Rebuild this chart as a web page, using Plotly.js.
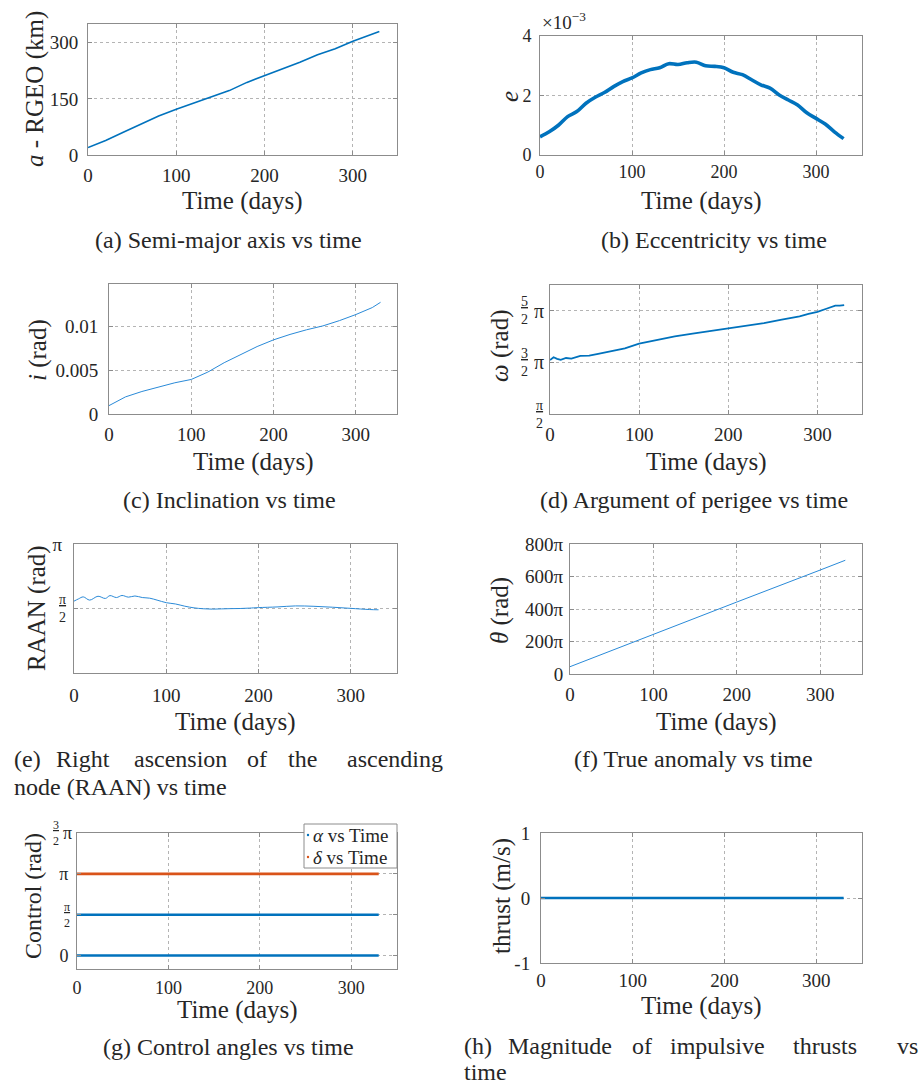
<!DOCTYPE html>
<html><head><meta charset="utf-8">
<script src="https://cdn.plot.ly/plotly-3.0.1.min.js"></script>
<style>html,body{margin:0;padding:0;background:#fff}#chart{width:923px;height:1086px}</style>
</head><body><div id="chart"></div>
<script>
// ---------- data ----------
const tA = [0,20,40,60,80,100,120,140,160,180,200,220,240,260,280,300,320,330];
const semiMajorKm = [20,39,61,83,104,122,138,154,172,194,212,228,248,268,284,304,322,330];

const tB = [0,10,20,30,40,50,60,70,80,90,100,110,120,130,140,150,160,170,180,190,200,210,220,230,240,250,260,270,280,290,300,310,320,330];
const eccentricity = [0.00061,0.00078,0.00100,0.00129,0.00146,0.00174,0.00194,0.00210,0.00230,0.00247,0.00259,0.00276,0.00287,0.00293,0.00307,0.00304,0.00310,0.00312,0.00300,0.00298,0.00293,0.00278,0.00270,0.00253,0.00236,0.00225,0.00202,0.00185,0.00168,0.00142,0.00123,0.00104,0.00078,0.00055];

const tC = [0,20,40,60,80,100,120,140,160,180,200,220,240,260,280,300,320,330];
const inclinationRad = [0.00096,0.00196,0.00258,0.0031,0.00358,0.00396,0.0048,0.00588,0.00685,0.00773,0.0085,0.00912,0.00965,0.0101,0.0107,0.0114,0.0122,0.0128];

const tD = [0,4,8,12,18,24,34,44,54,64,74,84,100,120,140,160,180,200,220,240,260,280,290,300,310,320,325,330];
const omegaPi = [1.545,1.60,1.57,1.55,1.585,1.575,1.625,1.63,1.665,1.70,1.73,1.77,1.865,1.94,2.006,2.058,2.109,2.154,2.20,2.263,2.327,2.39,2.44,2.48,2.54,2.60,2.60,2.61];

const tE = [0,5,10,17,26,34,39,46,52,59,66,74,82,90,100,110,120,130,140,150,160,170,180,190,200,220,240,260,280,300,320,330];
const raanPi = [0.557,0.575,0.590,0.565,0.595,0.578,0.600,0.585,0.601,0.588,0.597,0.585,0.580,0.565,0.545,0.535,0.518,0.505,0.498,0.495,0.497,0.499,0.500,0.503,0.507,0.512,0.520,0.517,0.510,0.501,0.492,0.490];

const tF = [0,100,200,300,330];
const thetaPi = [45,245,443,640,700];

const tG = [0,330];
const alphaLowPi = [0,0];
const alphaHighPi = [0.5,0.5];
const deltaPi = [1,1];
const legendNames = ['<i>α</i> vs Time','<i>δ</i> vs Time'];

const tH = [0,330];
const thrustMs = [0,0];

const timeTicks = [0,100,200,300];

// ---------- layout helpers ----------
const W = 923, H = 1086;
const FONT = 'Liberation Serif, Times New Roman, serif';
const TXT = '#262626';
const BLUE = '#0072BD', ORANGE = '#D95319';
const px = x => x / W;
const py = y => 1 - y / H;
// plot boxes [left, right, top, bottom] in pixels
const boxes = [
  [88,397,24,155],[540,862,36,155],
  [109,397,284,414],[550,862,285,414],
  [74,397,544,673],[570,862,544,674],
  [77,397,833,969],[541,862,833,963]
];
const tickSizes = [19,18,19,19,19,19,18,19];

function axisBase(size){
  return {
    showline:true, linecolor:'#8c8c8c', linewidth:1, mirror:'ticks',
    ticks:'inside', ticklen:4, tickcolor:'#8c8c8c', tickwidth:1,
    showgrid:true, gridcolor:'#b4b4b4', griddash:'dot', gridwidth:1,
    zeroline:false, fixedrange:true,
    tickfont:{family:FONT, size:size, color:TXT}
  };
}

const layout = {
  width:W, height:H, margin:{l:0,r:0,t:0,b:0},
  paper_bgcolor:'#fff', plot_bgcolor:'#fff',
  showlegend:false,
  annotations:[], shapes:[]
};

const ySpecs = [
  {range:[0,350], tickvals:[0,150,300], ticktext:['0','150','300']},
  {range:[0,0.004], tickvals:[0,0.002,0.004], ticktext:['0','2','4']},
  {range:[0,0.0149], tickvals:[0,0.005,0.01], ticktext:['0','0.005','0.01']},
  {range:[0.5,3], tickvals:[0.5,1.5,2.5], ticktext:[' ',' ',' ']},
  {range:[0,1], tickvals:[0.5,1], ticktext:[' ','π']},
  {range:[0,800], tickvals:[0,200,400,600,800], ticktext:['0','200π','400π','600π','800π']},
  {range:[-0.165,1.5], tickvals:[0,0.5,1,1.5], ticktext:['0',' ','π',' ']},
  {range:[-1,1], tickvals:[-1,0,1], ticktext:['-1','0','1']}
];
const xStand = [3,0,3,3,5,3,2,0];
const yStand = [5,4,6,4,7,2,4,6];

boxes.forEach((b,i)=>{
  const n = i===0 ? '' : String(i+1);
  const xa = axisBase(tickSizes[i]);
  Object.assign(xa, {domain:[px(b[0]),px(b[1])], range:[0,350], tickvals:timeTicks,
    ticktext:timeTicks.map(String), anchor:'y'+n, ticklabelstandoff:xStand[i]});
  const ya = axisBase(tickSizes[i]);
  Object.assign(ya, {domain:[py(b[3]),py(b[2])], anchor:'x'+n, ticklabelstandoff:yStand[i]}, ySpecs[i]);
  layout['xaxis'+n] = xa;
  layout['yaxis'+n] = ya;
});

// ---------- traces ----------
const data = [
  {x:tA, y:semiMajorKm, xaxis:'x', yaxis:'y', mode:'lines', line:{color:BLUE,width:1.6}},
  {x:tB, y:eccentricity, xaxis:'x2', yaxis:'y2', mode:'lines', line:{color:BLUE,width:3.6,shape:'spline'}},
  {x:tC, y:inclinationRad, xaxis:'x3', yaxis:'y3', mode:'lines', line:{color:'#2a8ad8',width:1}},
  {x:tD, y:omegaPi, xaxis:'x4', yaxis:'y4', mode:'lines', line:{color:BLUE,width:1.8}},
  {x:tE, y:raanPi, xaxis:'x5', yaxis:'y5', mode:'lines', line:{color:'#2a8ad8',width:1,shape:'spline'}},
  {x:tF, y:thetaPi, xaxis:'x6', yaxis:'y6', mode:'lines', line:{color:'#2a8ad8',width:1}},
  {x:tG, y:alphaLowPi, xaxis:'x7', yaxis:'y7', mode:'lines', line:{color:BLUE,width:2.6}, name:legendNames[0]},
  {x:tG, y:alphaHighPi, xaxis:'x7', yaxis:'y7', mode:'lines', line:{color:BLUE,width:2.6}, name:legendNames[0]},
  {x:tG, y:deltaPi, xaxis:'x7', yaxis:'y7', mode:'lines', line:{color:ORANGE,width:2.6}, name:legendNames[1]},
  {x:tH, y:thrustMs, xaxis:'x8', yaxis:'y8', mode:'lines', line:{color:BLUE,width:2.6}}
];

// ---------- text ----------
const A = layout.annotations;
function txt(text, x, y, size, opts){
  A.push(Object.assign({text:text, xref:'paper', yref:'paper', x:px(x), y:py(y),
    xanchor:'center', yanchor:'middle', showarrow:false, borderpad:0,
    font:{family:FONT, size:size, color:TXT}}, opts||{}));
}
const TT = 25, CAP = 24;
// x titles
[[242,201],[701,201],[253,462],[706,462],[235,722],[716,722],[237,1010],[701,1006]]
  .forEach(p=>txt('Time (days)', p[0], p[1], TT));
// y titles
txt('<i>a</i> - RGEO (km)', 35, 89, TT, {textangle:-90});
txt('<i>e</i>', 509, 96, TT, {textangle:-90});
txt('<i>i</i> (rad)', 38, 350, TT, {textangle:-90});
txt('<i>ω</i> (rad)', 500, 346, TT, {textangle:-90});
txt('RAAN (rad)', 37, 608, TT, {textangle:-90});
txt('<i>θ</i> (rad)', 500, 611, TT, {textangle:-90});
txt('Control (rad)', 33, 896, 24, {textangle:-90});
txt('thrust (m/s)', 502, 896, TT, {textangle:-90});
// exponent
txt('×10<sup>−3</sup>', 541, 21, 19, {xanchor:'left'});
// captions
txt('(a) Semi-major axis vs time', 228, 240, CAP);
txt('(b) Eccentricity vs time', 714, 240, CAP);
txt('(c) Inclination vs time', 229, 500, CAP);
txt('(d) Argument of perigee vs time', 694, 500, CAP);
txt('(e)', 13, 759, CAP, {xanchor:'left'});
txt('Right', 83, 759, CAP);
txt('ascension', 180, 759, CAP);
txt('of', 257, 759, CAP);
txt('the', 302, 759, CAP);
txt('ascending', 444, 759, CAP, {xanchor:'right'});
txt('node (RAAN) vs time', 13, 787, CAP, {xanchor:'left'});
txt('(f) True anomaly vs time', 693, 759, CAP);
txt('(g) Control angles vs time', 228, 1047, CAP);
txt('(h)', 463, 1046, CAP, {xanchor:'left'});
txt('Magnitude', 560, 1046, CAP);
txt('of', 642, 1046, CAP);
txt('impulsive', 717, 1046, CAP);
txt('thrusts', 825, 1046, CAP);
txt('vs', 919, 1046, CAP, {xanchor:'right'});
txt('time', 463, 1072, CAP, {xanchor:'left'});

// fraction tick labels (stacked) placed at tick values on the y axes
function frac(num, den, yref, yval, xRight, size){
  A.push({text:'<u>'+num+'</u><br>'+den, xref:'paper', yref:yref, x:px(xRight), y:yval,
    xanchor:'right', yanchor:'middle', showarrow:false, align:'center', borderpad:0,
    font:{family:FONT, size:size, color:TXT}});
}
function piLabel(yref, yval, xRight, size){
  A.push({text:'π', xref:'paper', yref:yref, x:px(xRight), y:yval,
    xanchor:'right', yanchor:'middle', showarrow:false, borderpad:0,
    font:{family:FONT, size:size, color:TXT}});
}
// (d)
frac('π','2','y4',0.5,544,14);
frac('3','2','y4',1.5,529,14); piLabel('y4',1.5,545,20);
frac('5','2','y4',2.5,529,14); piLabel('y4',2.5,545,20);
// (e)
frac('π','2','y5',0.5,67,14);
// (g)
frac('3','2','y7',1.5,60,12); piLabel('y7',1.5,73,18);
frac('π','2','y7',0.5,71,12);

// legend box for (g)
layout.shapes.push({type:'rect', xref:'paper', yref:'paper', x0:px(304), x1:px(397), y0:py(868), y1:py(824),
  line:{color:'#8c8c8c', width:1}, fillcolor:'#fff', layer:'above'});
[[BLUE,835],[ORANGE,857]].forEach((c,k)=>{
  layout.shapes.push({type:'circle', xref:'paper', yref:'paper', x0:px(306.8), x1:px(309.2),
    y0:py(c[1]+1.2), y1:py(c[1]-1.2), line:{width:0}, fillcolor:c[0], layer:'above'});
  txt(legendNames[k], 312, c[1], 19, {xanchor:'left'});
});

Plotly.newPlot('chart', data, layout, {staticPlot:true});
</script></body></html>
